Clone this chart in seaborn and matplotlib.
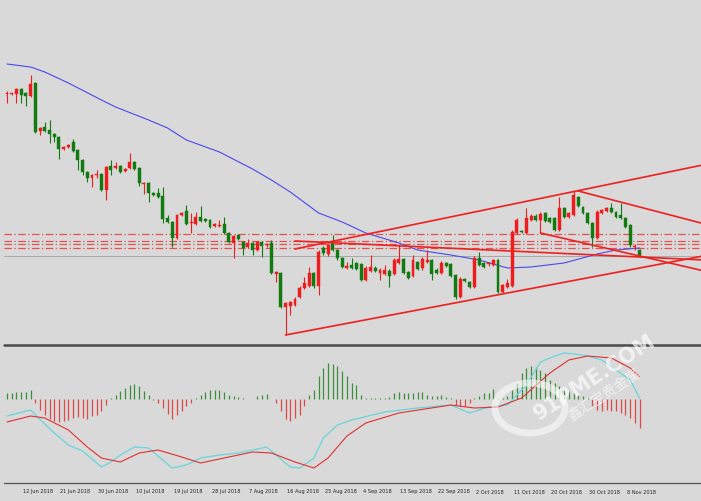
import numpy as np
import pandas as pd
import matplotlib
matplotlib.use("Agg")
import matplotlib.pyplot as plt
import seaborn as sns

sns.set_style("white")
plt.rcParams['font.family'] = ['DejaVu Sans', 'Noto Sans CJK SC']

# ---------------- data ----------------
opens = [306,306,306,311,307,304,317,269,273,270,
         266,263,251,253,258,250,240,228,222,225,
         226,210,234,232,234,229,232,238,232,216,
         217,207,207,204,182,178,162,185,189,177,
         176,183,181,180,174,174,176,167,157,165,
         158,153,157,150,158,155,157,126,127,93,
         94,95,103,112,114,127,114,152,146,157,
         150,142,132,135,137,136,120,129,132,127,
         126,129,126,137,141,128,124,138,132,138,
         140,130,127,137,136,125,103,121,118,113,
         142,137,136,135,140,108,113,114,167,169,
         167,180,184,180,187,182,182,170,192,183,
         185,203,193,187,177,162,187,189,192,188,
         185,182,175,153,150]
closes = [307,306,311,305,304,316,268,272,269,266,
          263,251,253,255,249,240,228,222,225,225,
          210,233,230,234,228,231,238,231,217,217,
          207,205,203,181,178,162,185,187,176,177,
          183,179,179,173,176,175,167,158,164,161,
          152,157,150,158,154,155,127,128,93,97,
          98,101,112,117,127,114,148,147,155,150,
          142,133,134,132,131,120,132,133,129,130,
          130,124,140,141,127,122,140,131,141,140,
          126,127,137,134,124,103,121,119,113,142,
          135,133,136,140,108,115,117,168,180,168,
          182,184,180,186,179,178,170,192,183,187,
          205,194,187,177,162,188,190,192,188,183,
          182,173,155,153,145]
highs = [309,307,312,312,308,325,318,273,278,280,
         267,264,254,256,261,251,241,229,226,230,
         227,234,240,238,235,232,247,239,233,218,
         218,208,212,213,185,179,186,188,195,187,
         188,194,182,181,177,180,183,168,165,166,
         159,161,158,159,159,157,160,129,128,98,
         99,103,114,123,133,128,150,154,157,165,
         151,143,138,142,138,137,134,145,134,132,
         135,131,142,155,142,129,145,139,143,150,
         141,132,139,138,137,126,123,122,119,144,
         148,138,138,141,141,116,121,170,182,170,
         192,186,186,188,188,183,183,203,193,188,
         209,204,194,188,178,190,191,193,197,189,
         197,183,176,156,151]
lows = [297,305,297,297,294,303,267,265,268,257,
        258,241,250,252,248,230,225,218,213,222,
        209,200,225,231,227,228,231,230,214,206,
        198,204,202,177,177,153,161,184,175,167,
        175,178,178,172,173,173,166,157,142,160,
        145,152,145,149,143,153,126,118,92,65,
        85,94,102,111,113,112,105,145,144,149,
        140,132,131,131,130,119,119,128,128,120,
        125,113,125,136,126,121,123,130,130,137,
        120,126,126,133,123,101,102,118,112,112,
        134,132,134,134,107,107,112,113,166,167,
        166,179,179,167,178,177,169,169,182,182,
        184,193,186,176,153,161,186,188,187,182,
        181,172,153,150,144]

# moving average (blue) vertices: bar, value
ma_bars = [0,5,8,13,20,23,30,34,38,45,52,56,60,66,71,76,83,87,94,100,106,111,118,125,129,134]
ma_vals = [336,333,328,317,300,293,280,272,260,248,231,220,208,187,178,167,157,150,145,140,132,133,137,146,150,152]

# horizontal levels (dash-dot) and a grey reference level
levels = [166,159,156,152]
grey_level = 144

# trend lines: (bar1, value1, bar2, value2)
trend_lines = [(59,65,134,132),    # lower channel
               (61,151,134,222),   # upper channel
               (61,159,134,143),   # flat line
               (121,209,134,193),  # from the top
               (113,167,134,144)]  # from the mid-October low

# oscillator histogram
hist = [6,6,7,7,7,9,
        -4,-11,-16,-20,-22,-23,-22,-21,-19,-18,-19,-20,-17,-16,-12,-6,
        1,4,8,11,14,15,13,8,4,
        -1,-4,-9,-15,-20,-16,-12,-7,-4,
        1,4,7,9,9,9,7,4,3,2,1,0.5,0.5,3,4,5,0.5,
        -4,-12,-20,-22,-19,-16,-7,
        4,9,23,31,36,35,33,28,23,16,14,4,1,1,1,1,1,2,6,7,6,6,6,7,7,4,3,3,4,2,1,
        -6,-7,-7,-4,
        1,3,6,6,10,1,1,3,9,16,26,31,33,32,29,26,19,16,13,9,8,6,4,3,1,
        -7,-11,-12,-11,-12,-12,-14,-16,-19,-24,-29]
fast_bars = [0,5,6,10,13,16,19,20,22,24,27,30,33,35,38,41,45,49,54,55,57,60,62,65,67,70,73,80,87,94,98,102,106,110,113,116,118,122,126,129,132,134]
fast_vals = [-17,-11,-16,-34,-46,-52,-64,-68,-63,-56,-48,-49,-61,-69,-66,-59,-56,-54,-49,-48,-56,-68,-69,-59,-39,-26,-21,-13,-9,-6,-14,-8,-6,14,37,43,46,44,39,29,19,1]
sig_bars = [0,5,8,13,17,20,24,28,32,37,41,47,52,56,61,65,68,72,76,83,94,99,104,109,115,119,123,128,132,134]
sig_vals = [-23,-17,-19,-31,-48,-59,-63,-54,-51,-58,-64,-58,-53,-54,-63,-69,-59,-37,-24,-14,-6,-9,-8,1,26,39,43,41,31,22]

tick_bars = [3,11,19,27,35,43,51,59,67,75,83,91,99,107,115,123,131]
tick_labels = ["12 Jun 2018","21 Jun 2018","30 Jun 2018","10 Jul 2018","19 Jul 2018",
               "28 Jul 2018","7 Aug 2018","16 Aug 2018","25 Aug 2018","4 Sep 2018",
               "13 Sep 2018","22 Sep 2018","2 Oct 2018","11 Oct 2018","20 Oct 2018",
               "30 Oct 2018","8 Nov 2018"]

# ---------------- styling ----------------
BG = "#d9d9d9"
UP = "#ee1c1c"
DOWN = "#117a11"
W, H = 701, 501

df = pd.DataFrame({"open": opens, "high": highs, "low": lows, "close": closes})
df["bar"] = np.arange(len(df))
df["up"] = df["close"] >= df["open"]

fig = plt.figure(figsize=(W / 100, H / 100), dpi=100, facecolor=BG)
ax = fig.add_axes([4 / W, (H - 343) / H, (W - 4) / W, 343 / H], facecolor=BG)
ax2 = fig.add_axes([4 / W, (H - 483) / H, (W - 4) / W, (483 - 347) / H], facecolor=BG)

XL = (-0.64, 147.0)

# horizontal levels
for lv in levels:
    ax.axhline(lv, color="#e65050", lw=0.9, ls=(0, (6, 2, 1, 2)), zorder=1)
ax.axhline(grey_level, color="#a8a8a8", lw=0.7, zorder=1)

# moving average
sns.lineplot(x=ma_bars, y=ma_vals, ax=ax, color="#4a4aee", lw=0.8, zorder=2)

# candles
colors = np.where(df["up"], UP, DOWN)
ax.vlines(df["bar"], df["low"], df["high"], colors=colors, lw=0.8, zorder=3)
body = (df["close"] - df["open"]).to_numpy(dtype=float)
body = np.where(np.abs(body) < 1, 1.0, body)
ax.bar(df["bar"], body, bottom=df["open"], width=0.62, color=colors,
       edgecolor=colors, lw=0.3, zorder=4)

# trend lines (rays to the right)
for b1, v1, b2, v2 in trend_lines:
    slope = (v2 - v1) / (b2 - b1)
    ax.plot([b1, XL[1]], [v1, v1 + slope * (XL[1] - b1)], color="#ee2020", lw=1.2, zorder=5)

ax.set_xlim(*XL)
ax.set_ylim(57, 400)
ax.set_xticks([]); ax.set_yticks([])
for s in ax.spines.values():
    s.set_visible(False)

# ---------------- oscillator panel ----------------
hcol = np.where(np.array(hist) >= 0, "#3a8f3a", "#e04848")
ax2.vlines(np.arange(len(hist)), 0, hist, colors=hcol, lw=0.9, zorder=2)
sns.lineplot(x=fast_bars, y=fast_vals, ax=ax2, color="#66d6dc", lw=0.9, zorder=3)
sns.lineplot(x=sig_bars, y=sig_vals, ax=ax2, color="#e23030", lw=0.8, zorder=4)
ax2.set_xlim(*XL)
ax2.set_ylim(-84, 52)
ax2.set_yticks([])
ax2.set_xticks(tick_bars)
ax2.set_xticklabels([])
ax2.tick_params(axis="x", direction="out", length=2.5, width=0.7, color="#555555", pad=1)
for k, s in ax2.spines.items():
    s.set_visible(k == "bottom")
ax2.spines["bottom"].set_color("#555555")
ax2.spines["bottom"].set_linewidth(0.9)
for b, lab in zip(tick_bars, tick_labels):
    ax2.annotate(lab, xy=(b, 0), xycoords=("data", "axes fraction"),
                 xytext=(1.5, -9), textcoords="offset pixels",
                 ha="left", va="center", fontsize=3.6, color="#222222",
                 family="DejaVu Sans")

# separator between the panels
fig.add_artist(plt.Line2D([4 / W, 1], [(H - 345) / H] * 2, color="#4a4a4a", lw=1.8))

# watermark
fig.text(595 / W, (H - 378) / H, "91PME.COM", rotation=33, fontsize=15,
         color="white", alpha=0.65, ha="center", va="center", weight="bold")
fig.text(605 / W, (H - 395) / H, "鑫汇宝贵金属", rotation=33, fontsize=10,
         color="white", alpha=0.65, ha="center", va="center",
         family=["Noto Sans CJK SC", "DejaVu Sans"])
circ = plt.Circle((530 / W, (H - 408) / H), 0.05, transform=fig.transFigure,
                  fill=False, ec="white", lw=5, alpha=0.55)
fig.add_artist(circ)

fig.savefig("out.png", dpi=100, facecolor=BG)
